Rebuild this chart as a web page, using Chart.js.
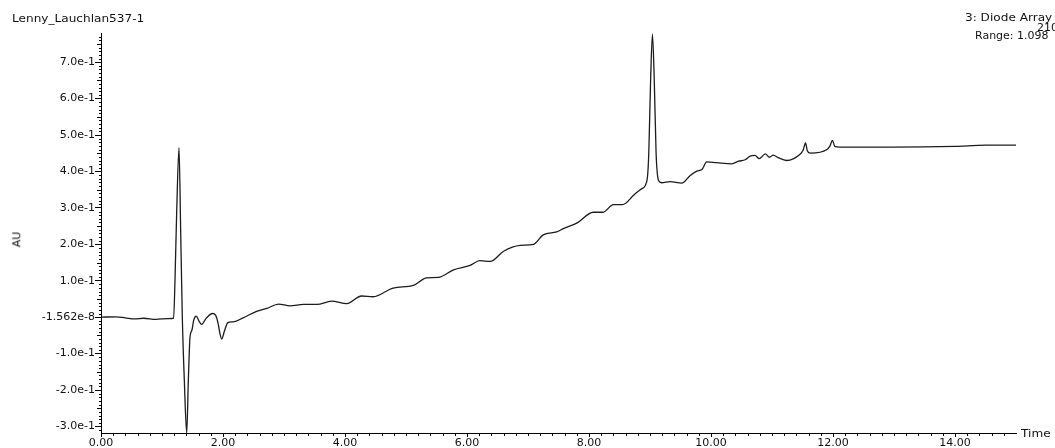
<!DOCTYPE html>
<html lang="en">
<head>
    <meta charset="UTF-8">
    <title>Lenny_Lauchlan537-1</title>
    <script src="https://cdn.jsdelivr.net/npm/chart.js"></script>
    <style>
        body { margin: 0; background: #fff; overflow: hidden; }
        .wrap { position: relative; width: 1055px; height: 448px; overflow: hidden; }
        .txt { position: absolute; font-family: "DejaVu Sans", sans-serif; font-size: 11px; line-height: 11px;
               color: #111; white-space: nowrap; transform: scaleX(1.1); transform-origin: left center; }
        .small { font-size: 10px; line-height: 10px; }
        .au { transform: rotate(-90deg); transform-origin: center center; }
    </style>
</head>
<body>
    <div class="wrap">
        <canvas id="chrom" width="1055" height="448"></canvas>
        <div class="txt" style="left:12px; top:13px;">Lenny_Lauchlan537-1</div>
        <div class="txt" style="left:965px; top:12px;">3: Diode Array</div>
        <div class="txt small" style="left:1037px; top:23px;">210</div>
        <div class="txt small" style="left:975px; top:31px;">Range: 1.098</div>
        <div class="txt au" style="left:9px; top:234px;">AU</div>
        <div class="txt" style="left:1021px; top:428px;">Time</div>
    </div>

    <script>
        // retention time (min) and absorbance (AU)
        const times = [
            0.00, 0.25, 0.40, 0.55, 0.70, 0.90, 1.10, 1.19,
            1.213, 1.24, 1.279, 1.306, 1.333, 1.366, 1.405, 1.432, 1.459,
            1.49, 1.52, 1.56, 1.61, 1.65, 1.72, 1.83, 1.88, 1.92, 1.95, 1.98, 2.02,
            2.08, 2.17, 2.33, 2.55, 2.72, 2.91, 3.10, 3.32, 3.54, 3.78, 4.03,
            4.27, 4.46, 4.79, 5.12, 5.34, 5.53, 5.78, 6.05, 6.21, 6.38, 6.60,
            6.87, 7.09, 7.25, 7.47, 7.58, 7.80, 8.07, 8.23, 8.40, 8.55, 8.74,
            8.86, 8.95, 8.98, 9.01, 9.04, 9.07, 9.10, 9.14, 9.19, 9.33, 9.52,
            9.66, 9.77, 9.85, 9.93, 10.09, 10.34, 10.45, 10.56, 10.64, 10.72, 10.79,
            10.89, 10.96, 11.02, 11.10, 11.24, 11.46, 11.51, 11.55, 11.58, 11.63,
            11.90, 11.95, 11.99, 12.03, 12.11, 13.00, 14.00, 14.50, 15.00
        ];
        const absorbance = [
            0.000, 0.001, -0.002, -0.005, -0.003, -0.006, -0.004, -0.003,
            0.101, 0.284, 0.465, 0.238, 0.000, -0.173, -0.318, -0.173, -0.055,
            -0.036, -0.008, 0.003, -0.012, -0.020, -0.004, 0.010, 0.005, -0.017, -0.045, -0.060, -0.040,
            -0.015, -0.013, -0.002, 0.016, 0.024, 0.036, 0.031, 0.035, 0.035, 0.044, 0.037,
            0.058, 0.056, 0.080, 0.087, 0.108, 0.109, 0.130, 0.142, 0.155, 0.153, 0.181,
            0.197, 0.200, 0.226, 0.234, 0.243, 0.258, 0.288, 0.288, 0.309, 0.309, 0.336,
            0.352, 0.375, 0.450, 0.650, 0.777, 0.650, 0.450, 0.375, 0.369, 0.372, 0.368,
            0.389, 0.401, 0.405, 0.426, 0.424, 0.421, 0.428, 0.432, 0.442, 0.444, 0.435,
            0.448, 0.439, 0.445, 0.438, 0.430, 0.447, 0.458, 0.478, 0.456, 0.450,
            0.460, 0.470, 0.485, 0.469, 0.467, 0.467, 0.469, 0.472, 0.472
        ];

        const xTickValues = [0, 2, 4, 6, 8, 10, 12, 14];
        const xTickLabels = ['0.00', '2.00', '4.00', '6.00', '8.00', '10.00', '12.00', '14.00'];
        const yTickValues = [-0.3, -0.2, -0.1, 0, 0.1, 0.2, 0.3, 0.4, 0.5, 0.6, 0.7];
        const yTickLabels = ['-3.0e-1', '-2.0e-1', '-1.0e-1', '-1.562e-8', '1.0e-1', '2.0e-1',
                             '3.0e-1', '4.0e-1', '5.0e-1', '6.0e-1', '7.0e-1'];

        const points = times.map((t, i) => ({ x: t, y: absorbance[i] }));

        // small ticks between the labelled ones (every 0.01 AU, longer at 0.05; every 0.2 min)
        const minorTicks = {
            id: 'minorTicks',
            afterDraw(chart) {
                const c = chart.ctx, xs = chart.scales.x, ys = chart.scales.y;
                c.save();
                c.strokeStyle = '#000';
                c.lineWidth = 1;
                c.beginPath();
                for (let k = -31; k <= 77; k++) {
                    if (k % 10 === 0) continue;
                    const len = (k % 5 === 0) ? 4 : 2;
                    const py = Math.round(ys.getPixelForValue(k * 0.01)) + 0.5;
                    c.moveTo(ys.right - len, py);
                    c.lineTo(ys.right, py);
                }
                for (let k = 1; k < 75; k++) {
                    if (k % 10 === 0) continue;
                    const px = Math.round(xs.getPixelForValue(k * 0.2)) + 0.5;
                    c.moveTo(px, xs.top);
                    c.lineTo(px, xs.top + 3);
                }
                c.stroke();
                c.restore();
            }
        };

        const tickFont = { family: 'DejaVu Sans, sans-serif', size: 11 };

        new Chart(document.getElementById('chrom'), {
            type: 'line',
            data: {
                datasets: [{
                    data: points,
                    borderColor: '#1c1c1c',
                    borderWidth: 1.3,
                    pointRadius: 0,
                    fill: false,
                    cubicInterpolationMode: 'monotone'
                }]
            },
            options: {
                responsive: false,
                animation: false,
                layout: { padding: { left: 0, top: 33, right: 39, bottom: 0 } },
                plugins: { legend: { display: false }, tooltip: { enabled: false } },
                scales: {
                    x: {
                        type: 'linear',
                        min: 0,
                        max: 15,
                        afterBuildTicks: s => { s.ticks = xTickValues.map(v => ({ value: v })); },
                        afterFit: s => { s.height = 15; },
                        ticks: {
                            callback: (v, i) => xTickLabels[i],
                            color: '#111',
                            font: tickFont,
                            padding: 0,
                            maxRotation: 0
                        },
                        grid: { drawOnChartArea: false, tickLength: 4, tickColor: '#000' },
                        border: { color: '#000', width: 1 }
                    },
                    y: {
                        type: 'linear',
                        min: -0.318,
                        max: 0.78,
                        afterBuildTicks: s => { s.ticks = yTickValues.map(v => ({ value: v })); },
                        afterFit: s => { s.width = 101; },
                        ticks: {
                            callback: (v, i) => yTickLabels[i],
                            color: '#111',
                            font: tickFont,
                            padding: 0
                        },
                        grid: { drawOnChartArea: false, tickLength: 6, tickColor: '#000' },
                        border: { color: '#000', width: 1 }
                    }
                }
            },
            plugins: [minorTicks]
        });
    </script>
</body>
</html>
